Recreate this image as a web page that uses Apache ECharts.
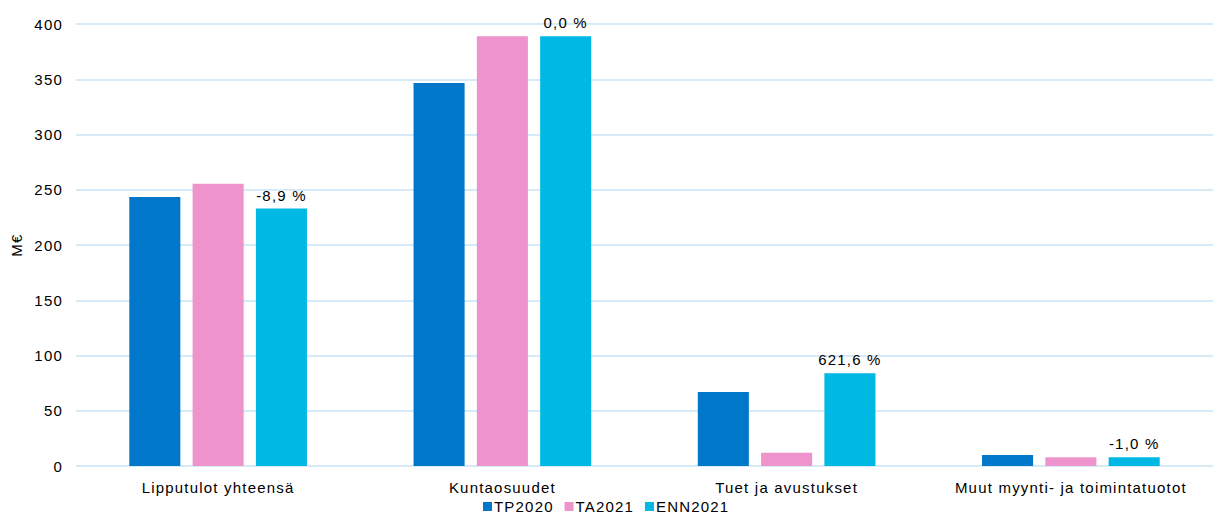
<!DOCTYPE html>
<html>
<head>
<meta charset="utf-8">
<script src="https://cdn.jsdelivr.net/npm/echarts@6/dist/echarts.min.js"></script>
<style>
  html, body { margin: 0; padding: 0; background: #fff; }
  #chart { width: 1213px; height: 519px; overflow: hidden; }
  /* the reference text is set a little wider than plain Arial */
  #chart text { letter-spacing: 1.2px; }
</style>
</head>
<body>
<div id="chart"></div>
<script>
const categories = ["Lipputulot yhteensä", "Kuntaosuudet", "Tuet ja avustukset", "Muut myynti- ja toimintatuotot"];
const tp2020 = [243.5, 346.5, 67, 10];
const ta2021 = [255.5, 389, 12, 8];
const enn2021 = [233, 389, 84, 8];
const changeLabels = ["-8,9 %", "0,0 %", "621,6 %", "-1,0 %"];

const chart = echarts.init(document.getElementById("chart"), null, { renderer: "svg" });
const font = "Liberation Sans, Arial, sans-serif";

const option = {
  textStyle: { fontFamily: font },
  grid: { left: 76, width: 1146, top: 24, bottom: 53 },
  legend: {
    bottom: 0,
    left: 478,
    itemWidth: 9,
    itemHeight: 9,
    itemGap: 18,
    icon: "rect",
    textStyle: { fontSize: 15, color: "#000", fontFamily: font, padding: [0, 0, 0, -3] },
    data: ["TP2020", "TA2021", "ENN2021"]
  },
  xAxis: {
    type: "category",
    data: categories,
    axisLine: { show: false },
    axisTick: { show: false },
    axisLabel: { color: "#000", fontSize: 15, margin: 14, fontFamily: font }
  },
  yAxis: {
    type: "value",
    min: 0,
    max: 400,
    interval: 50,
    name: "M€",
    nameLocation: "middle",
    nameGap: 52,
    nameTextStyle: { color: "#000", fontSize: 15, fontFamily: font },
    axisLabel: { color: "#000", fontSize: 15, margin: 13, fontFamily: font },
    splitLine: { lineStyle: { color: "#d6eaf8", width: 2 } }
  },
  series: [
    {
      name: "TP2020",
      type: "bar",
      data: tp2020,
      itemStyle: { color: "#0077c8" },
      barGap: "24%",
      barCategoryGap: "37.5%"
    },
    {
      name: "TA2021",
      type: "bar",
      data: ta2021,
      itemStyle: { color: "#ef93cc" }
    },
    {
      name: "ENN2021",
      type: "bar",
      data: enn2021,
      itemStyle: { color: "#00b8e4" },
      label: {
        show: true,
        position: "top",
        distance: 6,
        color: "#000",
        fontSize: 15,
        fontFamily: font,
        formatter: (p) => changeLabels[p.dataIndex]
      }
    }
  ]
};
chart.setOption(option);
</script>
</body>
</html>
